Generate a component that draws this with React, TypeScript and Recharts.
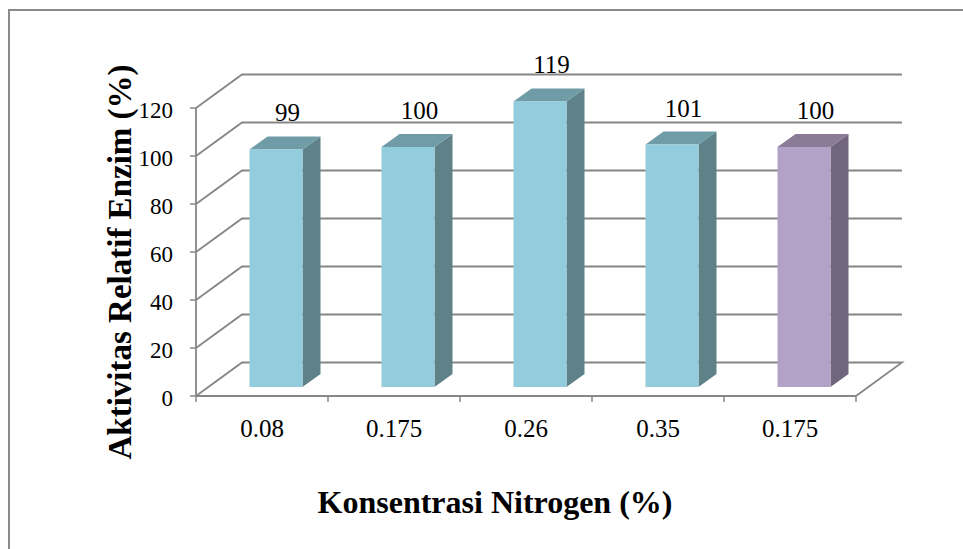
import { BarChart, Bar, XAxis, YAxis, CartesianGrid, LabelList } from 'recharts'

const CATEGORIES = ['0.08', '0.175', '0.26', '0.35', '0.175']
const VALUES = [99, 100, 119, 101, 100]
const Y_TICKS = [0, 20, 40, 60, 80, 100, 120]

const FRONT = ['#93cddd', '#93cddd', '#93cddd', '#93cddd', '#b3a2c7']
const SIDE = ['#5f828a', '#5f828a', '#5f828a', '#5f828a', '#72667e']
const TOP = ['#6f9ca7', '#6f9ca7', '#6f9ca7', '#6f9ca7', '#8a7b99']

const W = 963
const H = 549
const PLOT_LEFT = 196
const PLOT_RIGHT = 856
const PLOT_TOP = 108
const PLOT_BOTTOM = 396
const BAND = (PLOT_RIGHT - PLOT_LEFT) / CATEGORIES.length

// back-wall offset of the fake 3d floor/wall
const WALL_DX = 46
const WALL_DY = -33.5
// bar sits a bit into the depth, and has its own depth
const SHIFT_X = 13.5
const SHIFT_Y = -9
const DEPTH_X = 18
const DEPTH_Y = -13

const AXIS = '#868686'
const FONT = "'Liberation Serif', 'Times New Roman', serif"
const textStyle = { fontFamily: FONT }

const data = CATEGORIES.map((name, i) => ({ name, value: VALUES[i] }))

function gridLine(props: any) {
  const { x1, x2, y1, index } = props
  const y = y1
  const pts = [`${x1},${y}`, `${x1 + WALL_DX},${y + WALL_DY}`, `${x2 + WALL_DX},${y + WALL_DY}`]
  if (Math.abs(y - PLOT_BOTTOM) < 1) pts.push(`${x2},${y}`)
  return <polyline key={`g-${index}`} points={pts.join(' ')} fill="none" stroke={AXIS} strokeWidth={1.8} />
}

function Bar3D(props: any) {
  const { x, y, width, height, index } = props
  const fx = x + SHIFT_X
  const fy = y + SHIFT_Y
  const r = fx + width
  const b = fy + height
  return (
    <g>
      <polygon
        points={`${r},${fy} ${r + DEPTH_X},${fy + DEPTH_Y} ${r + DEPTH_X},${b + DEPTH_Y} ${r},${b}`}
        fill={SIDE[index]}
      />
      <polygon
        points={`${fx},${fy} ${fx + DEPTH_X},${fy + DEPTH_Y} ${r + DEPTH_X},${fy + DEPTH_Y} ${r},${fy}`}
        fill={TOP[index]}
      />
      <rect x={fx} y={fy} width={width} height={height} fill={FRONT[index]} />
    </g>
  )
}

function YTick(props: any) {
  const { x, y, payload } = props
  return (
    <text x={x} y={y + 10} textAnchor="end" style={textStyle} fontSize={23} fill="#000">
      {payload.value}
    </text>
  )
}

function XTick(props: any) {
  const { payload, index } = props
  const cx = payload.coordinate
  return (
    <g>
      <line x1={cx - BAND / 2} x2={cx - BAND / 2} y1={PLOT_BOTTOM} y2={PLOT_BOTTOM + 6} stroke={AXIS} strokeWidth={1.5} />
      {index === CATEGORIES.length - 1 && (
        <line x1={cx + BAND / 2} x2={cx + BAND / 2} y1={PLOT_BOTTOM} y2={PLOT_BOTTOM + 6} stroke={AXIS} strokeWidth={1.5} />
      )}
      <text x={cx} y={PLOT_BOTTOM + 41} textAnchor="middle" style={textStyle} fontSize={25} fill="#000">
        {payload.value}
      </text>
    </g>
  )
}

function ValueLabel(props: any) {
  const { x, y, width, value } = props
  return (
    <text x={x + width / 2 + 25} y={y - 37} textAnchor="middle" style={textStyle} fontSize={25} fill="#000">
      {value}
    </text>
  )
}

export default function App() {
  return (
    <div style={{ position: 'fixed', left: 0, top: 0, width: W, height: H, overflow: 'hidden', background: '#fff' }}>
      <div
        style={{
          position: 'absolute',
          left: 8,
          top: 9,
          width: 1000,
          height: 1000,
          border: '2px solid #8b8b8b',
          boxSizing: 'border-box',
        }}
      />
      <div style={{ position: 'absolute', left: 0, top: 0 }}>
        <BarChart
          width={W}
          height={H}
          data={data}
          margin={{ top: PLOT_TOP, right: W - PLOT_RIGHT, left: PLOT_LEFT - 60, bottom: H - PLOT_BOTTOM - 50 }}
          barCategoryGap={0}
        >
          <CartesianGrid vertical={false} horizontal={gridLine} />
          <XAxis
            dataKey="name"
            height={50}
            interval={0}
            tickLine={false}
            axisLine={{ stroke: AXIS, strokeWidth: 1.8 }}
            tick={<XTick />}
          />
          <YAxis
            type="number"
            domain={[0, 120]}
            ticks={Y_TICKS}
            width={60}
            tickSize={6}
            tickMargin={17}
            axisLine={{ stroke: AXIS, strokeWidth: 1.8 }}
            tickLine={{ stroke: AXIS, strokeWidth: 1.5 }}
            tick={<YTick />}
          />
          <Bar dataKey="value" barSize={53} shape={<Bar3D />} isAnimationActive={false}>
            <LabelList dataKey="value" content={<ValueLabel />} />
          </Bar>
        </BarChart>
      </div>
      <svg width={W} height={H} style={{ position: 'absolute', left: 0, top: 0, pointerEvents: 'none' }}>
        <text
          x={131}
          y={262}
          transform="rotate(-90, 131, 262)"
          textAnchor="middle"
          style={textStyle}
          fontWeight="bold"
          fontSize={33}
          fill="#000"
        >
          Aktivitas Relatif Enzim (%)
        </text>
        <text x={495} y={513} textAnchor="middle" style={textStyle} fontWeight="bold" fontSize={32} fill="#000">
          Konsentrasi Nitrogen (%)
        </text>
      </svg>
    </div>
  )
}
